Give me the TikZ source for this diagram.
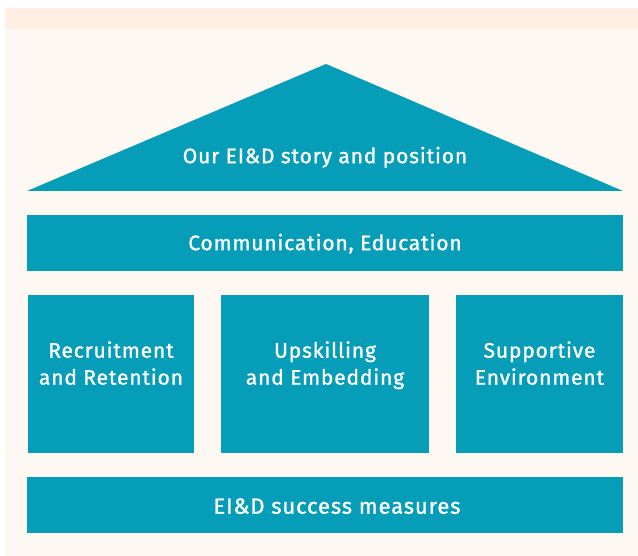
\documentclass[tikz,border=0pt]{standalone}
\usepackage{fontspec}
\setmainfont{Fira Sans}
\newfontfamily\pillarfont{Fira Sans}[LetterSpace=4,FakeBold=1.2]
\usetikzlibrary{positioning}
\definecolor{pillarblue}{HTML}{069DB8}
\definecolor{pagecream}{HTML}{FEF8F3}
\definecolor{bandpeach}{HTML}{FEEFE2}

\begin{document}
\begin{tikzpicture}[x=1pt,y=-1pt,
    block/.style={fill=pillarblue,inner sep=0pt,minimum height=56pt},
    pillar/.style={fill=pillarblue,inner sep=0pt,minimum height=158pt},
    caption/.style={text=white,align=center,inner sep=0pt,text depth=0pt,
        font=\pillarfont\fontsize{21}{27}\selectfont}]
    \useasboundingbox (0,0) rectangle (638,556);
    % page and header band
    \fill[pagecream] (5,8) rectangle (638,556);
    \fill[bandpeach] (5,8) rectangle (638,29);
    % roof
    \fill[pillarblue] (27,191) -- (326,64) -- (623,191) -- cycle;
    \node[caption] (story) at (325,155) {Our EI\&D story and position};
    % beam
    \node[block,minimum width=596pt] (comm) at (325,243) {};
    \node[caption] (commtext) at ([yshift=1pt]comm.center) {Communication, Education};
    % pillars
    \node[pillar,minimum width=166pt] (recruit) at (111,374) {};
    \node[pillar,minimum width=208pt] (upskill) at (325,374) {};
    \node[pillar,minimum width=167pt] (support) at (539.5,374) {};
    \node[caption] (recruittext) at ([yshift=11pt]recruit.center) {Recruitment\\and Retention};
    \node[caption] (upskilltext) at ([yshift=11pt]upskill.center) {Upskilling\\and Embedding};
    \node[caption] (supporttext) at ([yshift=11pt]support.center) {Supportive\\Environment};
    % base
    \node[block,minimum width=596pt] (measures) at (325,505) {};
    \node[caption,font=\pillarfont\fontsize{22}{27}\selectfont] (measurestext) at ([xshift=12pt,yshift=-1pt]measures.center) {EI\&D success measures};
\end{tikzpicture}
\end{document}
